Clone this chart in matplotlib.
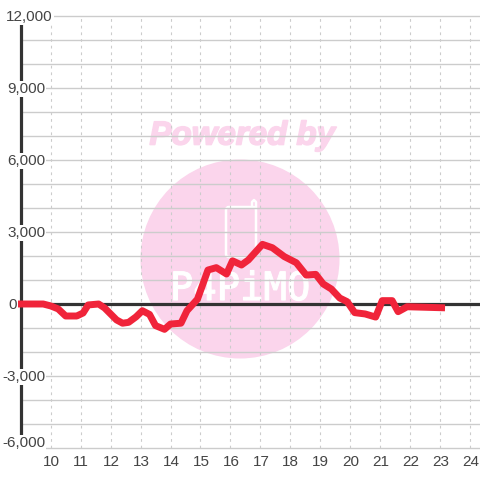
import matplotlib
matplotlib.use('Agg')
import matplotlib.pyplot as plt
import matplotlib.patheffects as pe
from matplotlib.patches import Circle, FancyBboxPatch

plt.rcParams['font.family'] = ['Liberation Sans', 'DejaVu Sans']

# values
hours = [9, 9.75, 10, 10.25, 10.5, 10.87, 11.08, 11.25, 11.6, 11.8, 12.2, 12.4, 12.6,
         12.85, 13.06, 13.3, 13.5, 13.8, 14.0, 14.35, 14.55, 14.9, 15.25, 15.53, 15.87,
         16.07, 16.37, 16.6, 17.07, 17.4, 17.8, 18.2, 18.53, 18.85, 19.1, 19.37, 19.65,
         19.9, 20.15, 20.5, 20.85, 21.07, 21.4, 21.6, 21.9, 23.05]
values = [0, 0, -80, -205, -500, -500, -375, -40, 0, -165, -665, -800, -765,
          -535, -280, -435, -900, -1055, -835, -800, -280, 200, 1415, 1515, 1250,
          1800, 1625, 1835, 2485, 2345, 1975, 1720, 1205, 1235, 835, 625, 250,
          95, -360, -415, -545, 140, 140, -320, -115, -155]

y_ticks = [12000, 9000, 6000, 3000, 0, -3000, -6000]
y_labels = ['12,000', '9,000', '6,000', '3,000', '0', '-3,000', '-6,000']
y_minor = [11000, 10000, 8000, 7000, 5000, 4000, 2000, 1000, -1000, -2000, -4000, -5000]
x_ticks = list(range(10, 25))

fig = plt.figure(figsize=(4.8, 4.8), dpi=100)

# watermark sits behind the chart, drawn in pixel coordinates
bg = fig.add_axes([0, 0, 1, 1], zorder=0)
bg.set_xlim(0, 480)
bg.set_ylim(480, 0)
bg.axis('off')
bg.add_patch(Circle((240, 259), 99.5, color='#fbd5ec', lw=0))
bg.text(242, 136, 'Powered by', color='#fbd5ec', fontsize=23.8, fontweight='bold',
        fontstyle='italic', family='Liberation Sans', ha='center', va='center',
        path_effects=[pe.withStroke(linewidth=1.2, foreground='#fbd5ec')])
bg.add_patch(FancyBboxPatch((226, 207), 30, 50, boxstyle='round,pad=0,rounding_size=3',
                            fc='none', ec='white', lw=1.8))
bg.plot([252, 252, 254, 256, 256], [207, 202, 200, 202, 207], color='white', lw=1.8)
bg.text(240, 289, 'P4PiMO', color='white', fontsize=28, family='DejaVu Sans Mono',
        ha='center', va='center', path_effects=[pe.withStroke(linewidth=0.8, foreground='white')])

# x=9 at 20.75px, 30px per hour; y=12000 at 16px, y=-6000 at 448px
ax = fig.add_axes([20.75 / 480, (480 - 448) / 480, (480 - 20.75) / 480, 432 / 480], zorder=1)
ax.patch.set_alpha(0)
ax.set_xlim(9, 9 + (480 - 20.75) / 29.95)
ax.set_ylim(-6000, 12000)
for s in ['top', 'right', 'bottom']:
    ax.spines[s].set_visible(False)
ax.spines['left'].set_color('#333333')
ax.spines['left'].set_linewidth(2.3)
ax.spines['left'].set_zorder(3)

for v in y_ticks + y_minor:
    ax.axhline(v, color='#cccccc', lw=1.0, zorder=1, clip_on=False)
for h in x_ticks:
    ax.axvline(h, color='#cccccc', lw=0.8, ls=(0, (2.5, 3.5)), zorder=1)
ax.axhline(0, color='#333333', lw=2.3, zorder=2)

ax.plot(hours, values, color='#f0243a', lw=5, solid_capstyle='projecting',
        solid_joinstyle='round', zorder=5, clip_on=False)

ax.set_xticks([])
ax.set_yticks([])

# labels have a white box that breaks the axis line and grid
y_offsets = {12000: 0, -6000: 6}
x_pos = {'12,000': 6, '9,000': 7, '6,000': 7, '3,000': 7, '0': 8, '-3,000': 2, '-6,000': 2}
for v, lab in zip(y_ticks, y_labels):
    ax.annotate(lab, xy=(9, v), xycoords='data', xytext=(x_pos[lab] - 20.75, y_offsets.get(v, 0) - 1),
                textcoords='offset pixels', ha='left', va='center', fontsize=11,
                color='#444444', zorder=6, annotation_clip=False,
                bbox=dict(fc='white', ec='none', pad=0.8))
for h in x_ticks:
    ax.annotate(str(h), xy=(h, -6000), xycoords='data', xytext=(0.5, -13.5), textcoords='offset pixels',
                ha='center', va='center', fontsize=11, color='#444444', zorder=6,
                annotation_clip=False, bbox=dict(fc='white', ec='none', pad=0.8))

fig.savefig('out.png', dpi=100)
